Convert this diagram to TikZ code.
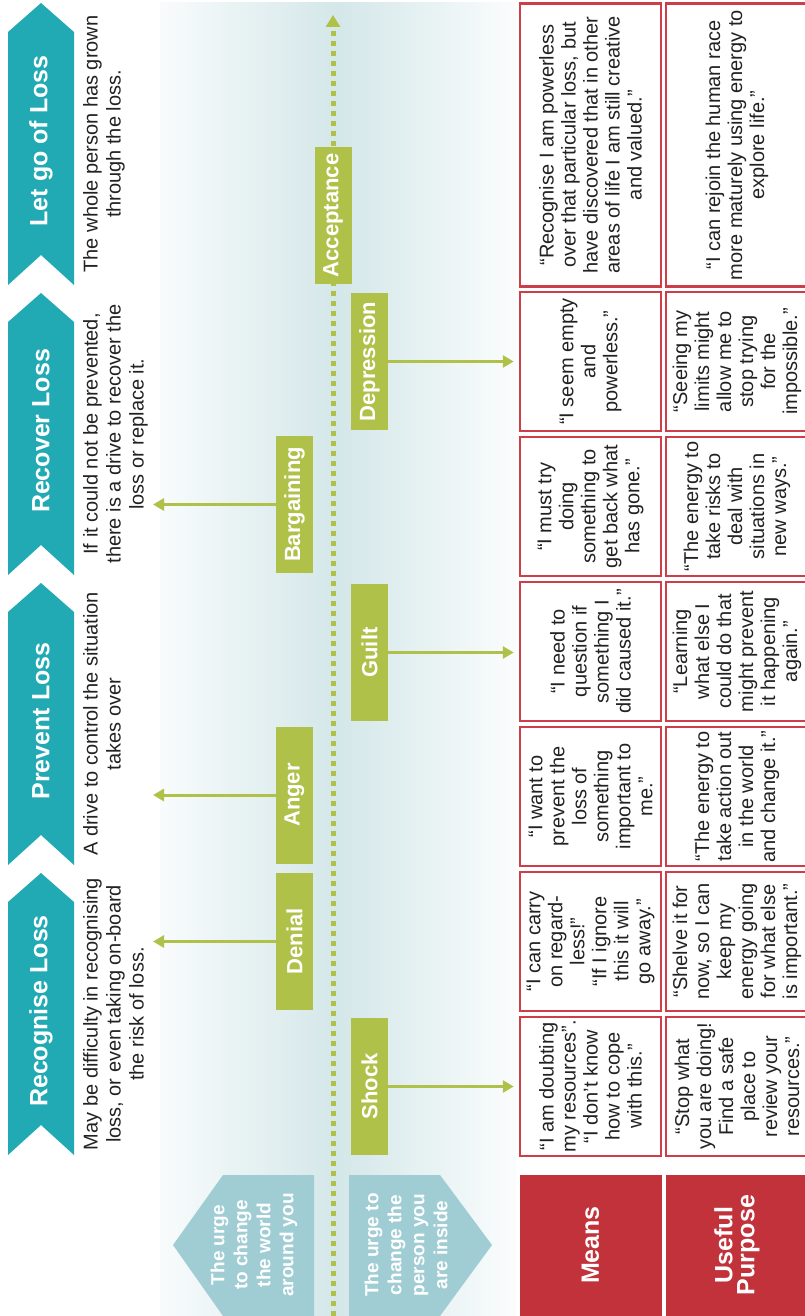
\documentclass[tikz,border=0pt]{standalone}
\usepackage{fontspec}
\setmainfont{Liberation Sans}
\usepackage{xcolor}
\usepackage{tikz}
\usetikzlibrary{arrows.meta,positioning,calc}

\definecolor{lossteal}{RGB}{34,170,180}
\definecolor{stagegreen}{RGB}{175,193,72}
\definecolor{urgeblue}{RGB}{160,205,211}
\definecolor{meansred}{RGB}{193,50,58}
\definecolor{boxred}{RGB}{205,62,72}
\definecolor{bandblue}{RGB}{212,231,233}
\definecolor{textgray}{RGB}{34,34,34}

\begin{document}
\begin{tikzpicture}[
  x=1pt, y=-1pt,
  chevtext/.style={rotate=90, text=white, inner sep=0pt,
    font=\bfseries\fontsize{25}{28}\selectfont},
  desc/.style={rotate=90, anchor=north, align=center, inner sep=0pt,
    text=textgray, font=\fontsize{20}{23}\selectfont},
  stage/.style={rotate=90, fill=stagegreen, text=white, inner sep=0pt,
    minimum width=137pt, minimum height=37pt,
    font=\bfseries\fontsize{22}{24}\selectfont},
  saybox/.style={rotate=90, draw=boxred, line width=2.5pt, fill=white,
    align=center, inner sep=0pt, minimum height=141pt, text=textgray,
    font=\fontsize{20}{22}\selectfont},
  headbox/.style={rotate=90, fill=meansred, text=white, align=center,
    inner sep=0pt, minimum width=141pt, minimum height=142pt,
    font=\bfseries\fontsize{25}{22}\selectfont},
  urge/.style={rotate=90, text=white, align=center, inner sep=0pt,
    font=\bfseries\fontsize{19}{23}\selectfont},
  arr/.style={-{Triangle[length=11pt,width=12pt]}, line width=3pt, draw=stagegreen},
  growline/.style={draw=stagegreen, line width=5pt, dash pattern=on 5pt off 5pt,
    -{Triangle[length=12pt,width=14pt]}}
]
\useasboundingbox (0,0) rectangle (805,1316);
\clip (0,0) rectangle (805,1316);

% background band
\fill[left color=bandblue!15, right color=bandblue!10, middle color=bandblue]
  (160,3) rectangle (516,1316);

% loss chevrons
\foreach \y in {3,293,583,873}
  \fill[lossteal] (8,\y+29) -- (41,\y) -- (74,\y+29) -- (74,\y+282)
    -- (41,\y+252) -- (8,\y+282) -- cycle;
\node[chevtext] (letgo) at (41,141) {Let go of Loss};
\node[chevtext] (recover) at (41,431) {Recover Loss};
\node[chevtext] (prevent) at (41,721) {Prevent Loss};
\node[chevtext] (recognise) at (41,1011) {Recognise Loss};

\node[desc] (letgoText) at (83,144) {The whole person has grown\\through the loss.};
\node[desc] (recoverText) at (83,434) {If it could not be prevented,\\there is a drive to recover the\\loss or replace it.};
\node[desc] (preventText) at (83,724) {A drive to control the situation\\takes over};
\node[desc] (recogniseText) at (83,1014) {May be difficulty in recognising\\loss, or even taking on-board\\the risk of loss.};

% the two urges
\fill[urgeblue] (223,1175) -- (314,1175) -- (314,1316) -- (223,1316)
  -- (173,1245) -- cycle;
\fill[urgeblue] (349,1175) -- (440,1175) -- (492,1245) -- (440,1316)
  -- (349,1316) -- cycle;
\node[urge] (urgeWorld) at (254,1245) {The urge\\to change\\the world\\around you};
\node[urge] (urgeSelf) at (406,1245) {The urge to\\change the\\person you\\are inside};

% growth line
\coordinate (axisFoot) at (333,1316);
\coordinate (axisHead) at (333,15);
\draw[growline] (axisFoot) -- (axisHead);

% stages
\node[stage] (acceptance) at (333,215.5) {Acceptance};
\node[stage] (depression) at (369.5,361.5) {Depression};
\node[stage] (bargaining) at (294.5,504.5) {Bargaining};
\node[stage] (guilt) at (369.5,652.5) {Guilt};
\node[stage] (anger) at (294.5,795) {Anger};
\node[stage] (denial) at (294.5,941.5) {Denial};
\node[stage] (shock) at (369.5,1086.5) {Shock};

% means
\node[saybox, minimum width=283pt] (acceptanceM) at (590.5,145) {“Recognise I am powerless\\over that particular loss, but\\have discovered that in other\\areas of life I am still creative\\and valued.”};
\node[saybox, minimum width=139pt] (depressionM) at (590.5,361.5) {“I seem empty\\and\\powerless.”};
\node[saybox, minimum width=139pt] (bargainingM) at (590.5,506.5) {“I must try\\doing\\something to\\get back what\\has gone.”};
\node[saybox, minimum width=139pt] (guiltM) at (590.5,651.5) {“I need to\\question if\\something I\\did caused it.”};
\node[saybox, minimum width=139pt] (angerM) at (590.5,796.5) {“I want to\\prevent the\\loss of\\something\\important to\\me.”};
\node[saybox, minimum width=139pt] (denialM) at (590.5,941.5) {“I can carry\\on regard-\\less!”\\“If I ignore\\this it will\\go away.”};
\node[saybox, minimum width=139pt] (shockM) at (590.5,1086.5) {“I am doubting\\my resources”.\\“I don’t know\\how to cope\\with this.”};
\node[headbox] (means) at (590.5,1245) {Means};

% useful purpose
\node[saybox, minimum width=283pt, minimum height=142pt] (acceptanceU) at (737,145) {“I can rejoin the human race\\more maturely using energy to\\explore life.”};
\node[saybox, minimum width=139pt, minimum height=142pt] (depressionU) at (737,361.5) {“Seeing my\\limits might\\allow me to\\stop trying\\for the\\impossible.”};
\node[saybox, minimum width=139pt, minimum height=142pt] (bargainingU) at (737,506.5) {“The energy to\\take risks to\\deal with\\situations in\\new ways.”};
\node[saybox, minimum width=139pt, minimum height=142pt] (guiltU) at (737,651.5) {“Learning\\what else I\\could do that\\might prevent\\it happening\\again.”};
\node[saybox, minimum width=139pt, minimum height=142pt] (angerU) at (737,796.5) {“The energy to\\take action out\\in the world\\and change it.”};
\node[saybox, minimum width=139pt, minimum height=142pt] (denialU) at (737,941.5) {“Shelve it for\\now, so I can\\keep my\\energy going\\for what else\\is important.”};
\node[saybox, minimum width=139pt, minimum height=142pt] (shockU) at (737,1086.5) {“Stop what\\you are doing!\\Find a safe\\place to\\review your\\resources.”};
\node[headbox] (purpose) at (737,1245) {Useful\\Purpose};

% arrows
\coordinate (leftTip) at (153,0);
\draw[arr] (bargaining.north) -- (bargaining.north -| leftTip);
\draw[arr] (anger.north) -- (anger.north -| leftTip);
\draw[arr] (denial.north) -- (denial.north -| leftTip);
\draw[arr, shorten >=5pt] (depression.south) -- (depression.south -| depressionM.north);
\draw[arr, shorten >=5pt] (guilt.south) -- (guilt.south -| guiltM.north);
\draw[arr, shorten >=5pt] (shock.south) -- (shock.south -| shockM.north);
\end{tikzpicture}
\end{document}
